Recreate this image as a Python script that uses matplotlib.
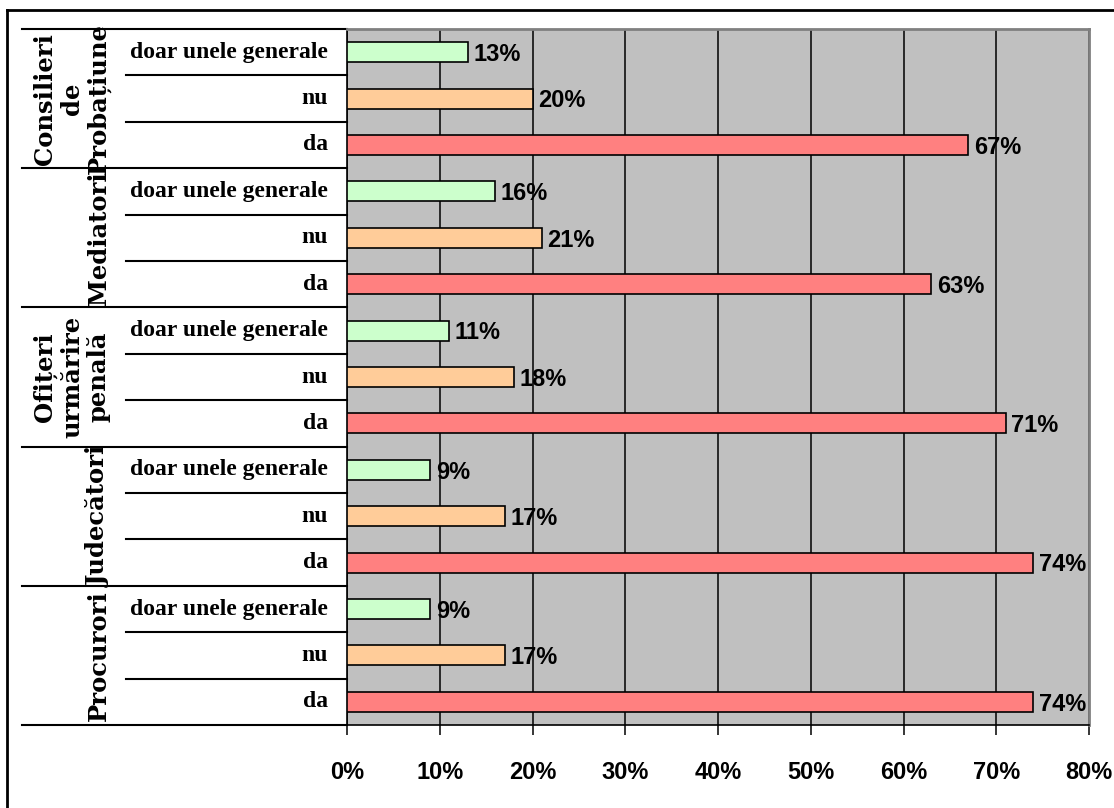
import matplotlib
matplotlib.use("Agg")
import matplotlib.pyplot as plt
from matplotlib.lines import Line2D
from matplotlib.ticker import FuncFormatter

# Survey answers per professional group (percent)
groups = ["Consilieri\nde\nProbațiune", "Mediatori", "Ofițeri\nurmărire\npenală",
          "Judecători", "Procurori"]
answers = ["doar unele generale", "nu", "da"]
doar_unele = [13, 16, 11, 9, 9]
nu = [20, 21, 18, 17, 17]
da = [67, 63, 71, 74, 74]
x_ticks = [0, 10, 20, 30, 40, 50, 60, 70, 80]

colors = {"doar unele generale": "#CCFFCC", "nu": "#FFCC99", "da": "#FF8080"}
series = {"doar unele generale": doar_unele, "nu": nu, "da": da}

W, H = 1114, 808
fig = plt.figure(figsize=(W / 100, H / 100), dpi=100)
fig.patch.set_facecolor("white")

ax_left, ax_right, ax_top, ax_bot = 347, 1089, 29, 725
ax = fig.add_axes([ax_left / W, 1 - ax_bot / H, (ax_right - ax_left) / W,
                   (ax_bot - ax_top) / H])
ax.set_facecolor("#C0C0C0")

narrow = ["Liberation Sans Narrow", "Liberation Sans"]

rows = []
for gi, g in enumerate(groups):
    for ai, a in enumerate(answers):
        rows.append((gi, a, series[a][gi]))

n = len(rows)
for i, (gi, a, v) in enumerate(rows):
    ax.barh(i, v, height=0.43, color=colors[a], edgecolor="black",
            linewidth=1.2, zorder=3)
    ax.text(v + 0.6, i + 0.05, f"{v}%", va="center", ha="left", fontsize=17,
            fontweight="bold", family=narrow, zorder=4)

ax.set_xlim(0, 80)
ax.set_ylim(n - 0.5, -0.5)
ax.set_xticks(x_ticks)
ax.xaxis.set_major_formatter(FuncFormatter(lambda v, p: f"{int(v)}%"))
ax.grid(axis="x", color="black", linewidth=1.1, zorder=1)
ax.set_axisbelow(True)
ax.set_yticks([])
ax.tick_params(axis="x", direction="out", length=7, width=1.1, color="black",
               pad=19, labelsize=17)
for lbl in ax.get_xticklabels():
    lbl.set_family(narrow)
    lbl.set_fontweight("bold")

ax.spines["left"].set_color("black")
ax.spines["bottom"].set_color("black")
ax.spines["left"].set_linewidth(1.2)
ax.spines["bottom"].set_linewidth(1.2)
for s in ("top", "right"):
    ax.spines[s].set_color("#808080")
    ax.spines[s].set_linewidth(2)

# Category labels and separators on the left
axw = ax_right - ax_left
def xfrac(px):
    return (px - ax_left) / axw

trans = ax.get_yaxis_transform()
for i, (gi, a, v) in enumerate(rows):
    ax.text(xfrac(328), i, a, ha="right", va="center", fontsize=17,
            fontweight="bold", family="Liberation Serif", transform=trans,
            clip_on=False)

for b in range(n + 1):
    y = b - 0.5
    x0 = xfrac(22) if b % 3 == 0 else xfrac(126)
    ax.add_line(Line2D([x0, 0], [y, y], transform=trans, color="black",
                       linewidth=1.5, clip_on=False))

for gi, g in enumerate(groups):
    ax.text(xfrac(111), gi * 3 + 1, g, rotation=90, ha="right", va="center",
            multialignment="center", fontsize=17.5, fontweight="bold",
            family="DejaVu Serif", linespacing=1.15, transform=trans,
            clip_on=False)

# Outer chart frame
fig.add_artist(Line2D([7 / W, 1.0], [1 - 10 / H, 1 - 10 / H],
                      transform=fig.transFigure, color="black", linewidth=2))
fig.add_artist(Line2D([7 / W, 7 / W], [1 - 10 / H, 0],
                      transform=fig.transFigure, color="black", linewidth=2))

fig.savefig("out.png", dpi=100, facecolor="white")
